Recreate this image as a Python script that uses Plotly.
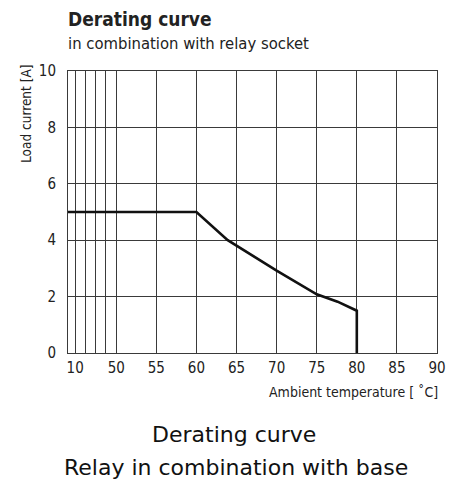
import plotly.graph_objects as go
import numpy as np

# ---- data ----
temperature = [3, 60, 63.9, 65, 66.5, 70, 75, 77.6, 80, 80]
load_current = [5, 5, 4.0, 3.8, 3.53, 2.92, 2.08, 1.82, 1.5, 0]

grid_temps = [10, 20, 30, 40, 50, 55, 60, 65, 70, 75, 80, 85, 90]
grid_labels = ["10", "", "", "", "50", "55", "60", "65", "70", "75", "80", "85", "90"]
y_ticks = [0, 2, 4, 6, 8, 10]
y_labels = ["0", "2", "4", "6", "8", "10"]

# compressed scale below 50 degC (broken axis)
def xmap(t):
    t = np.asarray(t, dtype=float)
    return np.where(t >= 50, t, 50 - (50 - t) * 0.128)

COND = "DejaVu Sans Condensed, Liberation Sans Narrow, sans-serif"
WIDE = "DejaVu Sans, Liberation Sans, sans-serif"

# the page body has an 8px margin; work in window pixels and shift
OFF = 8
W, H = 458 - OFF, 490 - OFF
L, T = 68 - OFF, 71 - OFF
R = 13
ph = 282
B = H - T - ph
pw = W - L - R

fig = go.Figure()
fig.add_trace(go.Scatter(
    x=xmap(temperature), y=load_current, mode="lines",
    line=dict(color="#111111", width=2.6), showlegend=False, hoverinfo="skip"))

fig.update_xaxes(
    range=[float(xmap(3)), 90], tickmode="array",
    tickvals=xmap(grid_temps).tolist(), ticktext=grid_labels,
    showgrid=True, gridcolor="#3a3a3a", gridwidth=1,
    showline=True, linecolor="#3a3a3a", linewidth=1, mirror=True,
    ticks="", zeroline=False, ticklabelstandoff=1,
    tickfont=dict(family=COND, size=15, color="#222222"))
fig.update_yaxes(
    range=[0, 10], tickmode="array", tickvals=y_ticks, ticktext=y_labels,
    showgrid=True, gridcolor="#3a3a3a", gridwidth=1,
    showline=True, linecolor="#3a3a3a", linewidth=1, mirror=True,
    ticks="", zeroline=False, ticklabelstandoff=8,
    tickfont=dict(family=COND, size=15, color="#222222"))

def px(xp):
    return (xp - OFF - L) / pw

def py(yp):
    return (T + ph - (yp - OFF)) / ph

annotations = [
    dict(text="<b>Derating curve</b>", x=px(66), y=py(19), xanchor="left", yanchor="middle",
         font=dict(family=COND, size=19, color="#222222")),
    dict(text="in combination with relay socket", x=px(66), y=py(43), xanchor="left", yanchor="middle",
         font=dict(family=COND, size=16.5, color="#222222")),
    dict(text="Load current [A]", x=px(25), y=py(114), xanchor="center", yanchor="middle",
         textangle=-90, font=dict(family=COND, size=13.5, color="#222222")),
    dict(text="Ambient temperature [ ˚C]", x=px(448), y=py(392), xanchor="right", yanchor="middle",
         font=dict(family=COND, size=14, color="#222222")),
    dict(text="Derating curve", x=px(238), y=py(435), xanchor="center", yanchor="middle",
         font=dict(family=WIDE, size=22, color="#111111")),
    dict(text="Relay in combination with base", x=px(240), y=py(467), xanchor="center", yanchor="middle",
         font=dict(family=WIDE, size=22, color="#111111")),
]
for a in annotations:
    a.update(xref="paper", yref="paper", showarrow=False)

fig.update_layout(
    width=W, height=H, margin=dict(l=L, r=R, t=T, b=B),
    paper_bgcolor="white", plot_bgcolor="white",
    annotations=annotations)

fig.write_html("out.html")
